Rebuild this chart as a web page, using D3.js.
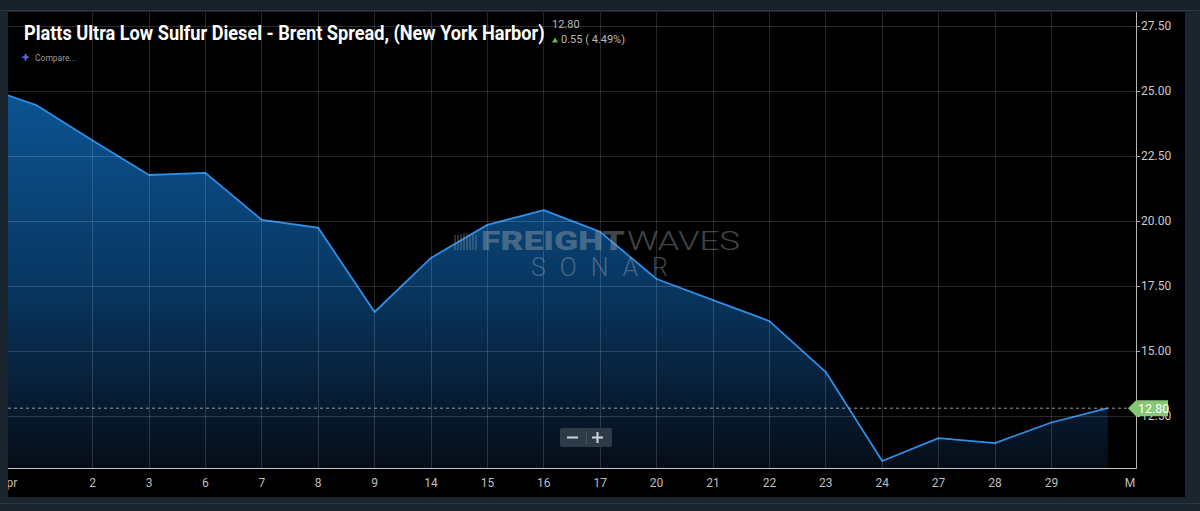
<!DOCTYPE html>
<html><head><meta charset="utf-8">
<script src="https://cdn.jsdelivr.net/npm/d3@7"></script>
<style>
html,body{margin:0;padding:0;background:#1b252d;}
svg{display:block;}
</style></head>
<body>
<svg id="c" width="1200" height="511"></svg>
<script>
// ---- data ----
const categories = ["Mar 31","Apr 1","Apr 2","Apr 3","Apr 6","Apr 7","Apr 8","Apr 9","Apr 14","Apr 15","Apr 16","Apr 17","Apr 20","Apr 21","Apr 22","Apr 23","Apr 24","Apr 27","Apr 28","Apr 29","Apr 30"];
const values = [25.2, 24.46, 23.1, 21.77, 21.85, 20.04, 19.74, 16.5, 18.58, 19.85, 20.42, 19.58, 17.77, 16.96, 16.15, 14.19, 10.77, 11.65, 11.46, 12.25, 12.80];
const dayTickLabels = ["2","3","6","7","8","9","14","15","16","17","20","21","22","23","24","27","28","29"];
const monthLabels = ["Apr","May"];
const yTicks = [12.5, 15, 17.5, 20, 22.5, 25, 27.5];
const lastValue = 12.80, change = 0.55, changePct = 4.49;
const title = "Platts Ultra Low Sulfur Diesel - Brent Spread, (New York Harbor)";

const svg = d3.select("#c");
const L = 8, R = 1136, T = 12, B = 468;

// background
svg.append("rect").attr("width",1200).attr("height",511).attr("fill","#1b252d");
svg.append("rect").attr("x",0).attr("y",0).attr("width",1200).attr("height",10).attr("fill","#18212a");
svg.append("line").attr("x1",0).attr("x2",1200).attr("y1",10.5).attr("y2",10.5).attr("stroke","#2b3742");
svg.append("line").attr("x1",0).attr("x2",1200).attr("y1",503.5).attr("y2",503.5).attr("stroke","#2b3742");
svg.append("rect").attr("x",L).attr("y",T).attr("width",1185-L).attr("height",497-T).attr("fill","#000");

const x = d3.scaleLinear().domain([0.5, 20.5]).range([L, R]);
const y = d3.scaleLinear().domain([10.5, 28]).range([B, 13]);

const defs = svg.append("defs");
defs.append("clipPath").attr("id","plot").append("rect").attr("x",L).attr("y",T).attr("width",R-L).attr("height",B-T);
defs.append("clipPath").attr("id","xlab").append("rect").attr("x",L).attr("y",B).attr("width",R-L).attr("height",30);
const g = defs.append("linearGradient").attr("id","fillg").attr("gradientUnits","userSpaceOnUse")
  .attr("x1",0).attr("x2",0).attr("y1",y(25)).attr("y2",B);
g.append("stop").attr("offset",0).attr("stop-color","#0c5493").attr("stop-opacity",1);
g.append("stop").attr("offset",0.5).attr("stop-color","#083864").attr("stop-opacity",1);
g.append("stop").attr("offset",1).attr("stop-color","#060d17").attr("stop-opacity",1);

const dayIdx = dayTickLabels.map((d,i)=>i+2);

// helper: squeeze a text horizontally to a target width with a scale transform
function fitText(sel, x0, y0, w){
  const n = sel.node().getComputedTextLength();
  sel.attr("transform",`translate(${x0},${y0}) scale(${w/n},1)`);
  return sel;
}

// area + line
const plot = svg.append("g").attr("clip-path","url(#plot)");
const area = d3.area().x((d,i)=>x(i)).y0(B).y1(d=>y(d));
const line = d3.line().x((d,i)=>x(i)).y(d=>y(d));
plot.append("path").datum(values).attr("d",area).attr("fill","url(#fillg)");

// grid
const grid = svg.append("g");
grid.selectAll(".vg").data(dayIdx).join("line")
  .attr("x1",d=>x(d)).attr("x2",d=>x(d)).attr("y1",T).attr("y2",B)
  .attr("stroke","#ffffff").attr("stroke-opacity",0.15).attr("stroke-width",1).attr("shape-rendering","crispEdges");
grid.selectAll(".hg").data(yTicks).join("line")
  .attr("x1",L).attr("x2",R).attr("y1",d=>y(d)).attr("y2",d=>y(d))
  .attr("stroke","#ffffff").attr("stroke-opacity",0.16).attr("stroke-width",1).attr("shape-rendering","crispEdges");

// watermark
const wm = svg.append("g").attr("opacity",0.42);
for (let k=0;k<8;k++){
  wm.append("line").attr("x1",455+k*3).attr("x2",455+k*3).attr("y1",233+Math.abs(k-3.5)*0.6).attr("y2",250).attr("stroke","#9aa4ad").attr("stroke-width",1.3);
}
fitText(wm.append("text").attr("font-family","Roboto, sans-serif").attr("font-weight",900)
  .attr("font-size",25).attr("fill","#9aa4ad").text("FREIGHT"), 481, 250, 144);
fitText(wm.append("text").attr("font-family","Roboto, sans-serif").attr("font-weight",300)
  .attr("font-size",25).attr("fill","#9aa4ad").text("WAVES"), 627, 250, 113);
wm.append("text").attr("x",531).attr("y",276).attr("font-family","Roboto, sans-serif").attr("font-weight",300)
  .attr("font-size",25).attr("fill","#9aa4ad").attr("textLength",137).attr("lengthAdjust","spacing").text("SONAR");

plot.append("path").datum(values).attr("d",line).attr("fill","none").attr("stroke","#2d8ee8").attr("stroke-width",1.8).attr("stroke-linejoin","round");

// dashed last-value line
svg.append("line").attr("x1",L).attr("x2",R).attr("y1",y(lastValue)).attr("y2",y(lastValue))
  .attr("stroke","#9a9a9a").attr("stroke-width",1).attr("stroke-dasharray","3,3");

// axes
const yAxis = d3.axisRight(y).tickValues(yTicks).tickFormat(d3.format(".2f")).tickSize(4).tickPadding(1);
const ya = svg.append("g").attr("transform",`translate(${R},0)`).call(yAxis);
ya.select(".domain").remove();
ya.selectAll("line").attr("stroke","#aaa");
ya.selectAll("text").attr("fill","#c9c9c9").attr("font-family","Roboto, sans-serif").attr("font-size",12);
svg.append("line").attr("x1",R+0.5).attr("x2",R+0.5).attr("y1",T).attr("y2",B+0.5).attr("stroke","#b5b5b5").attr("stroke-width",1);
svg.append("line").attr("x1",L).attr("x2",R+0.5).attr("y1",B+0.5).attr("y2",B+0.5).attr("stroke","#c8c8c8").attr("stroke-width",1);

const xa = svg.append("g").attr("clip-path","url(#xlab)");
xa.selectAll(".xt").data(dayTickLabels).join("text")
  .attr("x",(d,i)=>x(dayIdx[i])).attr("y",487).attr("text-anchor","middle")
  .attr("fill","#bdbdbd").attr("font-family","Roboto, sans-serif").attr("font-size",12).text(d=>d);
xa.selectAll(".mt").data(monthLabels).join("text")
  .attr("x",(d,i)=>x(i===0?0.5:20.5)).attr("y",487).attr("text-anchor","middle")
  .attr("fill","#bdbdbd").attr("font-family","Roboto, sans-serif").attr("font-size",12).text(d=>d);

// last value tag
const ty = y(lastValue);
svg.append("path").attr("d",`M${R-8},${ty} L${R},${ty-8} L${R+32},${ty-8} L${R+32},${ty+8} L${R},${ty+8} Z`).attr("fill","#86c776");
svg.append("text").attr("x",R+2).attr("y",ty+4.5).attr("fill","#fff").attr("font-family","Roboto, sans-serif").attr("font-size",12.5).text(lastValue.toFixed(2));

// zoom buttons
const zb = svg.append("g");
zb.append("rect").attr("x",560).attr("y",428).attr("width",52).attr("height",19).attr("rx",2).attr("fill","#2c3b47");
zb.append("line").attr("x1",586.5).attr("x2",586.5).attr("y1",431).attr("y2",444).attr("stroke","#45535e");
zb.append("line").attr("x1",567).attr("x2",578).attr("y1",437.5).attr("y2",437.5).attr("stroke","#cfd6db").attr("stroke-width",2);
zb.append("line").attr("x1",592).attr("x2",603).attr("y1",437.5).attr("y2",437.5).attr("stroke","#cfd6db").attr("stroke-width",2);
zb.append("line").attr("x1",597.5).attr("x2",597.5).attr("y1",432).attr("y2",443).attr("stroke","#cfd6db").attr("stroke-width",2);

// title
fitText(svg.append("text").attr("fill","#fff").attr("font-family","Roboto, sans-serif")
  .attr("font-weight",700).attr("font-size",19.5).text(title), 24, 40, 521);
svg.append("text").attr("x",552).attr("y",28).attr("fill","#b8b8b8").attr("font-family","Roboto, sans-serif").attr("font-size",11).text(lastValue.toFixed(2));
svg.append("path").attr("d","M552,42.5 L555,37.5 L558,42.5 Z").attr("fill","#5fbf4f");
svg.append("text").attr("x",561).attr("y",43).attr("fill","#b8b8b8").attr("font-family","Roboto, sans-serif").attr("font-size",11)
  .text(`${change.toFixed(2)} ( ${changePct.toFixed(2)}%)`);
svg.append("text").attr("x",22).attr("y",62).attr("fill","#6f6cf0").attr("font-family","Roboto, sans-serif").attr("font-size",13).attr("font-weight",700).text("+");
svg.append("text").attr("x",35).attr("y",61).attr("fill","#9a9a9a").attr("font-family","Roboto, sans-serif").attr("font-size",8.5).text("Compare...");
</script>
</body></html>
